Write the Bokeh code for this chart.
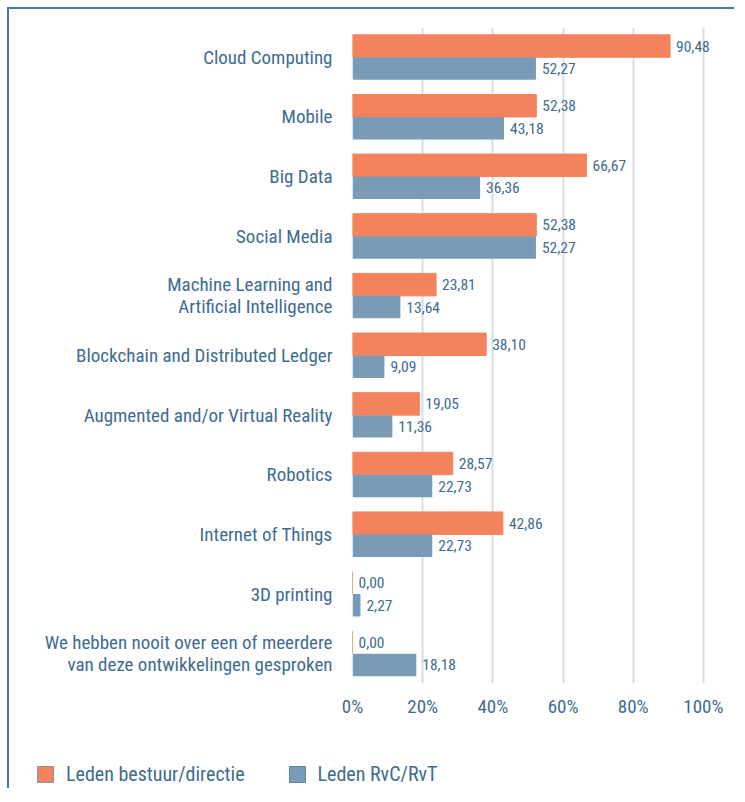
from bokeh.plotting import figure
from bokeh.models import (FactorRange, Range1d, FixedTicker, PrintfTickFormatter,
                          ColumnDataSource, Legend, LegendItem)
from bokeh.transform import dodge
from bokeh.core.properties import value
from bokeh.embed import file_html
from bokeh.resources import INLINE

# ---------------- data ----------------
categories = [
    "Cloud Computing",
    "Mobile",
    "Big Data",
    "Social Media",
    "Machine Learning and\nArtificial Intelligence",
    "Blockchain and Distributed Ledger",
    "Augmented and/or Virtual Reality",
    "Robotics",
    "Internet of Things",
    "3D printing",
    "We hebben nooit over een of meerdere\nvan deze ontwikkelingen gesproken",
]
bestuur = [90.48, 52.38, 66.67, 52.38, 23.81, 38.10, 19.05, 28.57, 42.86, 0.00, 0.00]
rvc = [52.27, 43.18, 36.36, 52.27, 13.64, 9.09, 11.36, 22.73, 22.73, 2.27, 18.18]
series_names = ["Leden bestuur/directie", "Leden RvC/RvT"]
x_ticks = [0, 20, 40, 60, 80, 100]

# ---------------- style ----------------
FONT = "Roboto Condensed, Roboto"
TEXT = "#3E6C8F"
ORANGE = "#F4825C"
BLUE = "#7A9BB6"
GRID = "#D3DEE9"
BORDER = "#4A7898"

def fmt(v):
    return f"{v:.2f}".replace(".", ",")

src = ColumnDataSource(dict(
    cat=categories,
    bestuur=bestuur,
    rvc=rvc,
    bestuur_lbl=[fmt(v) for v in bestuur],
    rvc_lbl=[fmt(v) for v in rvc],
))

p = figure(
    frame_width=372, frame_height=656,
    y_range=FactorRange(factors=categories[::-1]),
    x_range=Range1d(0, 106),
    output_backend="svg", toolbar_location=None,
    min_border_left=343, min_border_right=10,
    min_border_top=18, min_border_bottom=50,
)
p.outline_line_color = None
p.background_fill_color = "white"
p.border_fill_color = "white"
p.styles = {"margin-left": "7px", "margin-top": "7px",
            "border-left": f"2px solid {BORDER}", "border-top": f"2px solid {BORDER}"}

H = 0.377
OFF = 0.1885
r1 = p.hbar(y=dodge("cat", OFF, range=p.y_range), right="bestuur", left=0, height=H,
            source=src, fill_color=ORANGE, line_color=ORANGE, line_width=1)
r2 = p.hbar(y=dodge("cat", -OFF, range=p.y_range), right="rvc", left=0, height=H,
            source=src, fill_color=BLUE, line_color=None)

p.text(x="bestuur", y=dodge("cat", OFF, range=p.y_range), text="bestuur_lbl", source=src,
       x_offset=6, text_baseline="middle", text_align="left",
       text_font=value(FONT), text_font_size="15.5px", text_color=TEXT)
p.text(x="rvc", y=dodge("cat", -OFF, range=p.y_range), text="rvc_lbl", source=src,
       x_offset=6, text_baseline="middle", text_align="left",
       text_font=value(FONT), text_font_size="15.5px", text_color=TEXT)

# axes
p.xaxis.ticker = FixedTicker(ticks=x_ticks)
p.xaxis.formatter = PrintfTickFormatter(format="%d%%")
p.xaxis.axis_line_color = None
p.xaxis.major_tick_line_color = None
p.xaxis.minor_tick_line_color = None
p.xaxis.major_tick_out = 0
p.xaxis.major_tick_in = 0
p.xaxis.major_label_standoff = 11
p.xaxis.major_label_text_font = FONT
p.xaxis.major_label_text_font_size = "19px"
p.xaxis.major_label_text_color = TEXT

p.yaxis.axis_line_color = None
p.yaxis.major_tick_line_color = None
p.yaxis.major_tick_out = 0
p.yaxis.major_tick_in = 0
p.yaxis.major_label_standoff = 20
p.yaxis.major_label_text_font = FONT
p.yaxis.major_label_text_font_size = "19px"
p.yaxis.major_label_text_color = TEXT
p.yaxis.major_label_text_line_height = 0.95

p.ygrid.grid_line_color = None
p.xgrid.grid_line_color = GRID
p.xgrid.grid_line_width = 2

# ---------------- legend strip (separate root, so frames are not aligned) ----------------
pl = figure(
    width=725, height=55,
    x_range=Range1d(1, 2), y_range=Range1d(1, 2),
    output_backend="svg", toolbar_location=None,
    x_axis_location=None, y_axis_location=None,
    min_border=0, min_border_left=0, min_border_right=0,
    min_border_top=0, min_border_bottom=0,
)
pl.outline_line_color = None
pl.grid.visible = False
pl.background_fill_color = "white"
pl.border_fill_color = "white"
pl.styles = {"margin-left": "7px", "border-left": f"2px solid {BORDER}"}

# zero-size proxy glyphs: only their legend swatches are seen
g1 = pl.quad(left=[0], right=[0], top=[0], bottom=[0], fill_color=ORANGE,
             line_color="#8497AA", line_width=1)
g2 = pl.quad(left=[0], right=[0], top=[0], bottom=[0], fill_color=BLUE,
             line_color="#5F84A2", line_width=1)

legend = Legend(
    items=[LegendItem(label=series_names[0], renderers=[g1]),
           LegendItem(label=series_names[1], renderers=[g2])],
    orientation="horizontal",
    location=(26, 2),
    glyph_width=20, glyph_height=20, label_height=20,
    label_standoff=11, spacing=42, padding=0, margin=0,
    label_text_font=FONT, label_text_font_size="20px", label_text_color=TEXT,
    label_text_baseline="middle",
    border_line_color=None, background_fill_alpha=0,
)
pl.add_layout(legend, "center")

open("out.html", "w").write(file_html([p, pl], INLINE))
